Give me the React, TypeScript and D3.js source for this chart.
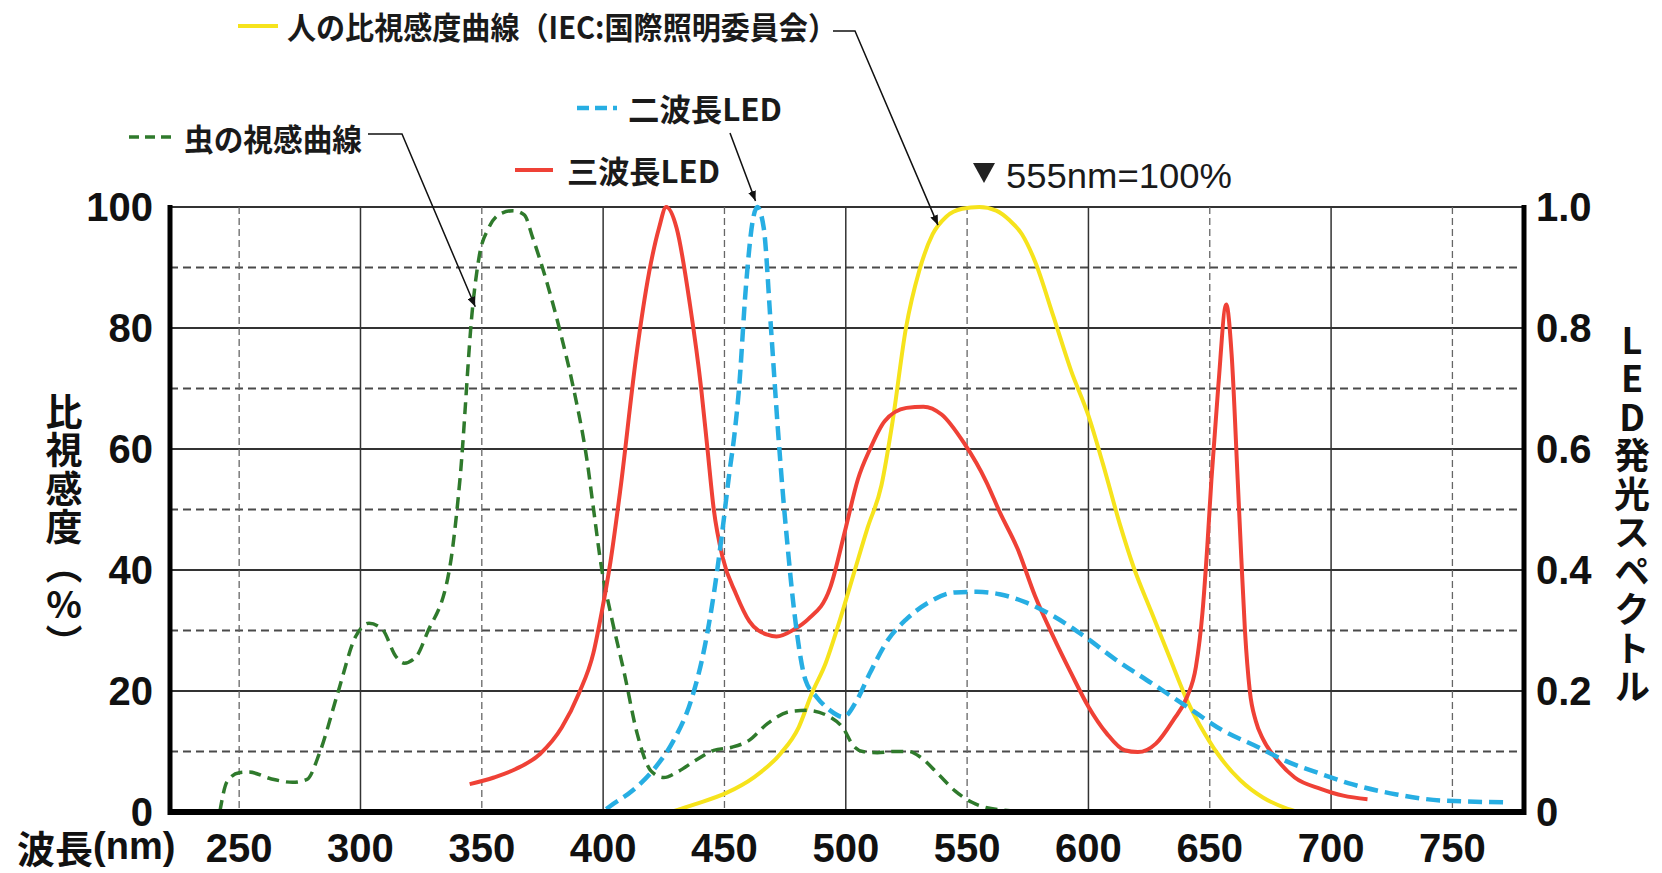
import React, { useEffect } from "react";
import * as d3 from "d3";

type Pt = [number, number];

// 虫の視感曲線 [波長nm, %] 左軸
const insectCurve: Pt[] = [
  [242, 0], [245, 5], [250, 6.5], [254, 6.6], [263, 5.5], [272, 4.9], [278, 5.4],
  [283, 9.6], [290.6, 19.6], [298, 29], [303.5, 31.2], [309, 30.2], [314.6, 25.7],
  [318, 24.6], [323, 25.7], [327.5, 29.6], [336.7, 40.2], [341, 55], [346.3, 83.8],
  [349, 92], [352.8, 96.5], [358.3, 99], [362.9, 99.4], [367.5, 98.7], [371, 94.9],
  [376.7, 87.7], [382.3, 79.4], [387.8, 70], [393.4, 58], [396, 50.2], [399.4, 40.2],
  [403, 33], [408.7, 23], [414, 13], [419.7, 6.8], [425, 5.7], [430.5, 6.6], [438, 8.5],
  [445.6, 10.2], [453, 10.7], [460, 11.8], [467.7, 14.6], [477, 16.6], [484, 16.8],
  [493.5, 15.7], [499, 13.8], [503, 11], [507, 10], [513, 9.8], [520, 10], [526, 10],
  [531, 9], [538, 6.3], [545, 3.5], [552, 1.6], [563, 0.4], [578, 0.05], [593, 0],
];

// 人の比視感度曲線 [波長nm, %] 左軸
const humanCurve: Pt[] = [
  [428, 0], [438, 1.3], [451, 3.2], [462, 5.7], [473, 9.6], [480.6, 14], [486, 19.6],
  [491.7, 24.6], [497, 31], [503, 39], [509, 47], [514.7, 54], [519.3, 64.6],
  [524.8, 80], [530.3, 89.5], [535.8, 95.5], [541.4, 98.4], [548, 99.7], [555, 100],
  [562, 99.4], [567.5, 97.8], [572.6, 95.5], [578, 91], [585.5, 82], [592.8, 73],
  [600, 65.5], [606, 57.5], [613, 47.5], [618.6, 40.5], [626, 33], [633.3, 25.7],
  [640.6, 18.5], [648, 12.9], [655.3, 8.5], [662.7, 5.2], [671.9, 2.4], [681, 0.7],
  [686.6, 0],
];

// 三波長LED [波長nm, 相対値] 右軸
const triLed: Pt[] = [
  [345, 0.046], [355, 0.057], [364, 0.071], [374, 0.096], [383, 0.14], [390, 0.196],
  [396, 0.263], [399.4, 0.33], [403, 0.413], [407, 0.53], [413.7, 0.755], [419, 0.893],
  [423, 0.965], [426, 1.0], [430.3, 0.965], [435.8, 0.838], [440.4, 0.7], [443, 0.6],
  [445.6, 0.5], [449.3, 0.42], [454.8, 0.36], [460.3, 0.315], [467.7, 0.293],
  [471.4, 0.29], [478.8, 0.302], [484.3, 0.318], [493.5, 0.37], [500, 0.47],
  [505, 0.55], [510, 0.6], [516, 0.646], [525, 0.668], [532, 0.67], [539.5, 0.657],
  [548.7, 0.61], [558, 0.545], [563.4, 0.496], [570.8, 0.435], [578, 0.357],
  [585.5, 0.29], [592.8, 0.23], [600, 0.174], [607.5, 0.13], [614.9, 0.102],
  [620.4, 0.099], [627.8, 0.113], [635, 0.152], [640.6, 0.19], [644.3, 0.24],
  [647, 0.33], [649, 0.44], [650.7, 0.55], [653.5, 0.703], [656.8, 0.839], [659, 0.757],
  [661.5, 0.55], [663, 0.42], [664.5, 0.3], [666.5, 0.2], [669, 0.15], [672, 0.12],
  [677, 0.09], [685, 0.057], [696, 0.038], [705, 0.027], [715, 0.021],
];

// 二波長LED [波長nm, 相対値] 右軸
const duoLed: Pt[] = [
  [401.3, 0.005], [403, 0.01], [412, 0.035], [421.6, 0.074], [429, 0.118],
  [436.3, 0.185], [441.9, 0.274], [445.6, 0.36], [449, 0.46], [452, 0.56], [454, 0.62],
  [456, 0.7], [458.8, 0.866], [461.6, 0.976], [463.5, 1.0], [466.2, 0.965], [469, 0.81],
  [471.8, 0.645], [474, 0.53], [476, 0.44], [478.8, 0.33], [483.4, 0.218], [488, 0.19],
  [493.5, 0.168], [499, 0.157], [504.6, 0.185], [510, 0.23], [517.5, 0.285],
  [524.8, 0.318], [534, 0.346], [545, 0.363], [554, 0.364], [563.4, 0.36],
  [574.5, 0.346], [585.5, 0.324], [598.4, 0.29], [611.2, 0.252], [626, 0.213],
  [640.6, 0.174], [655.3, 0.135], [670, 0.107], [681, 0.085], [695.8, 0.063],
  [708.6, 0.046], [727, 0.029], [745.5, 0.019], [773, 0.016],
];

const xTicks = [250, 300, 350, 400, 450, 500, 550, 600, 650, 700, 750];
const leftTicks = [0, 20, 40, 60, 80, 100];
const leftMinor = [10, 30, 50, 70, 90];
const rightTicks = [0, 0.2, 0.4, 0.6, 0.8, 1.0];

const leftTitle = "比視感度︵%︶";
const rightTitle = "LED発光スペクトル";

const W = 1662;
const H = 873;
const left = 170;
const right = 1524;
const top = 207;
const bottom = 812;

const JP = '"Noto Sans CJK JP", "Noto Sans CJK SC", sans-serif';
const NUM = '"Liberation Sans", Arial, Helvetica, sans-serif';

const YELLOW = "#f6e31c";
const RED = "#ef4136";
const BLUE = "#27aee3";
const GREEN = "#2f7a2c";

const vertical = { writingMode: "vertical-rl", textOrientation: "upright" } as React.CSSProperties;

export default function App() {
  useEffect(() => {
    document.body.style.margin = "0";
  }, []);

  const x = d3.scaleLinear().domain([221.5, 779.5]).range([left, right]);
  const yL = d3.scaleLinear().domain([0, 100]).range([bottom, top]);
  const yR = d3.scaleLinear().domain([0, 1]).range([bottom, top]);

  const lineL = d3
    .line<Pt>()
    .x((d) => x(d[0]))
    .y((d) => yL(d[1]))
    .curve(d3.curveMonotoneX);
  const lineR = d3
    .line<Pt>()
    .x((d) => x(d[0]))
    .y((d) => yR(d[1]))
    .curve(d3.curveMonotoneX);

  // leader arrow tips, tied to the curves
  const tipHuman: Pt = [x(538), yL(97)];
  const tipInsect: Pt = [x(347.3), yL(83.5)];
  const tipDuo: Pt = [x(462.8), yR(1.0) - 6];

  const legendText = {
    fontFamily: JP,
    fontWeight: 700,
    fontSize: 31,
    fill: "#1a1a1a",
    lengthAdjust: "spacingAndGlyphs",
  } as const;

  return (
    <svg width={W} height={H} style={{ display: "block", background: "#fff" }}>
      <defs>
        <marker id="arr" viewBox="0 0 10 8" refX="10" refY="4" markerWidth="10" markerHeight="8" markerUnits="userSpaceOnUse" orient="auto">
          <path d="M0,0 L10,4 L0,8 z" fill="#111" />
        </marker>
      </defs>

      {/* grid */}
      {leftMinor.map((v) => (
        <line key={"hm" + v} x1={left} x2={right} y1={yL(v)} y2={yL(v)} stroke="#4a4a4a" strokeWidth={2} strokeDasharray="8 5" />
      ))}
      {leftTicks.map((v) => (
        <line key={"hM" + v} x1={left} x2={right} y1={yL(v)} y2={yL(v)} stroke="#333" strokeWidth={2} />
      ))}
      {xTicks.map((v) =>
        v % 100 === 0 ? (
          <line key={"v" + v} x1={x(v)} x2={x(v)} y1={top} y2={bottom} stroke="#333" strokeWidth={1.5} />
        ) : (
          <line key={"v" + v} x1={x(v)} x2={x(v)} y1={top} y2={bottom} stroke="#666" strokeWidth={1.3} strokeDasharray="7 4" />
        )
      )}

      {/* curves */}
      <path d={lineL(humanCurve) || ""} fill="none" stroke={YELLOW} strokeWidth={4} />
      <path d={lineL(insectCurve) || ""} fill="none" stroke={GREEN} strokeWidth={3.5} strokeDasharray="12 7" />
      <path d={lineR(triLed) || ""} fill="none" stroke={RED} strokeWidth={4} strokeLinejoin="round" />
      <path d={lineR(duoLed) || ""} fill="none" stroke={BLUE} strokeWidth={4.5} strokeDasharray="14 7" />

      {/* axes frame */}
      <line x1={left} x2={left} y1={top - 2} y2={bottom + 3} stroke="#000" strokeWidth={5} />
      <line x1={right} x2={right} y1={top - 2} y2={bottom + 3} stroke="#000" strokeWidth={5} />
      <line x1={left - 2} x2={right + 2} y1={bottom} y2={bottom} stroke="#000" strokeWidth={6} />

      {/* left ticks */}
      {leftTicks.map((v) => (
        <text key={"lt" + v} x={153} y={yL(v)} textAnchor="end" dominantBaseline="central" fontFamily={NUM} fontWeight={700} fontSize={40} fill="#111">
          {v}
        </text>
      ))}
      {/* right ticks */}
      {rightTicks.map((v) => (
        <text key={"rt" + v} x={1536} y={yR(v)} dominantBaseline="central" fontFamily={NUM} fontWeight={700} fontSize={40} fill="#111">
          {v === 0 ? "0" : v.toFixed(1)}
        </text>
      ))}
      {/* x ticks */}
      {xTicks.map((v) => (
        <text key={"xt" + v} x={x(v)} y={848} textAnchor="middle" dominantBaseline="central" fontFamily={NUM} fontWeight={700} fontSize={40} fill="#111">
          {v}
        </text>
      ))}
      <text x={17} y={846} dominantBaseline="central" fontWeight={700} fontSize={38} fill="#111">
        <tspan fontFamily={JP}>波長</tspan>
        <tspan fontFamily={NUM}>(nm)</tspan>
      </text>

      {/* vertical axis titles */}
      <text x={64} y={393} style={vertical} letterSpacing={1.5} fontFamily={JP} fontWeight={700} fontSize={37} fill="#111">
        {leftTitle}
      </text>
      <text x={1632} y={322} style={vertical} letterSpacing={2.5} fontFamily={JP} fontWeight={700} fontSize={36} fill="#111">
        {rightTitle}
      </text>

      {/* legend: human */}
      <line x1={238} x2={278} y1={26} y2={26} stroke={YELLOW} strokeWidth={4} />
      <text x={287} y={25} textLength={550} {...legendText}>
        <tspan dominantBaseline="central">人の比視感度曲線（IEC:国際照明委員会）</tspan>
      </text>
      <polyline points={`833,31 855,31 ${tipHuman[0]},${tipHuman[1]}`} fill="none" stroke="#111" strokeWidth={1.5} markerEnd="url(#arr)" />

      {/* legend: insect */}
      <line x1={129} x2={172} y1={137} y2={137} stroke={GREEN} strokeWidth={3.5} strokeDasharray="10 6" />
      <text x={184} y={137} textLength={178} {...legendText}>
        <tspan dominantBaseline="central">虫の視感曲線</tspan>
      </text>
      <polyline points={`368,134 402,134 ${tipInsect[0]},${tipInsect[1]}`} fill="none" stroke="#111" strokeWidth={1.5} markerEnd="url(#arr)" />

      {/* legend: two-wavelength LED */}
      <line x1={577} x2={617} y1={108} y2={108} stroke={BLUE} strokeWidth={4.5} strokeDasharray="12 6" />
      <text x={628} y={107} textLength={154} {...legendText}>
        <tspan dominantBaseline="central">二波長LED</tspan>
      </text>
      <line x1={730} y1={133} x2={tipDuo[0]} y2={tipDuo[1]} stroke="#111" strokeWidth={1.5} markerEnd="url(#arr)" />

      {/* legend: three-wavelength LED */}
      <line x1={515} x2={553} y1={170} y2={170} stroke={RED} strokeWidth={4} />
      <text x={567} y={169} textLength={153} {...legendText}>
        <tspan dominantBaseline="central">三波長LED</tspan>
      </text>

      {/* 555nm note */}
      <path d="M973,163 L995,163 L984,183 z" fill="#222" />
      <text x={1006} y={175} textLength={226} lengthAdjust="spacingAndGlyphs" dominantBaseline="central" fontFamily={NUM} fontSize={35} fill="#1a1a1a">
        555nm=100%
      </text>
    </svg>
  );
}
